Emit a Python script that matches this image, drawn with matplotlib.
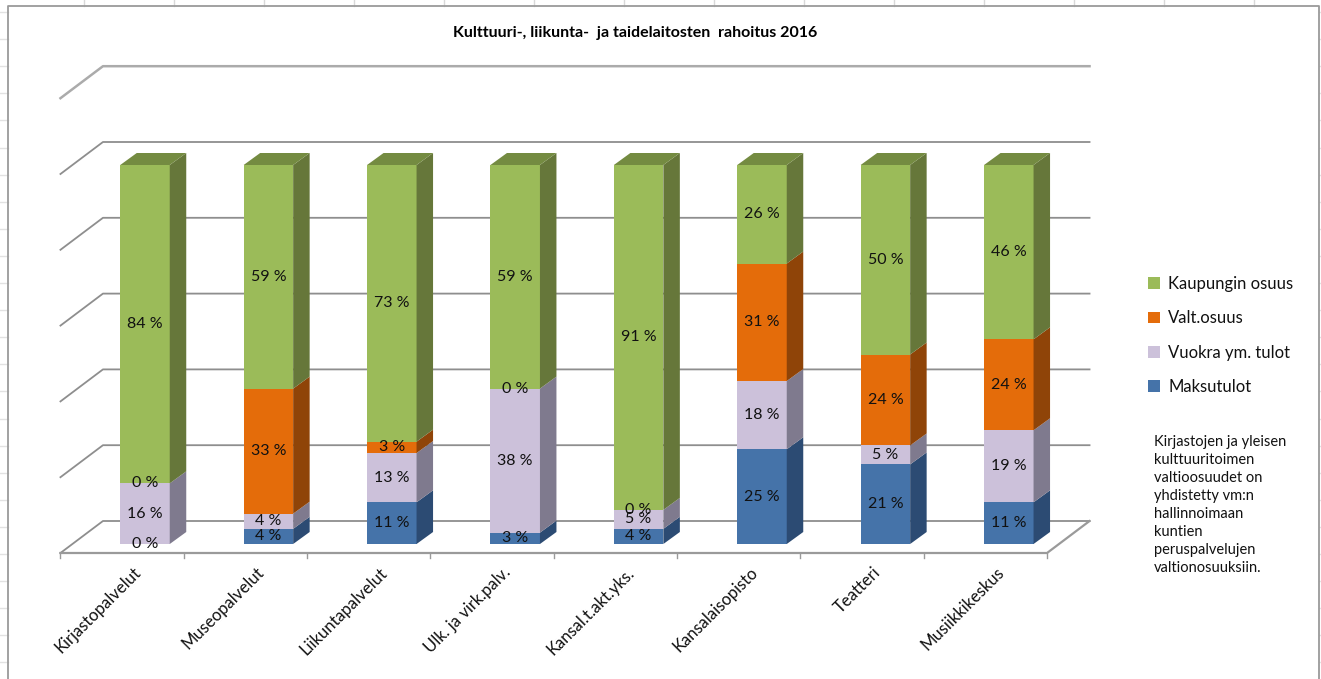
import numpy as np
import matplotlib
matplotlib.use('Agg')
import matplotlib.pyplot as plt
from matplotlib.patches import Polygon, Patch

categories = ['Kirjastopalvelut', 'Museopalvelut', 'Liikuntapalvelut', 'Ulk. ja virk.palv.',
              'Kansal.t.akt.yks.', 'Kansalaisopisto', 'Teatteri', 'Musiikkikeskus']
series_names = ['Maksutulot', 'Vuokra ym. tulot', 'Valt.osuus', 'Kaupungin osuus']
maksutulot = [0, 4, 11, 3, 4, 25, 21, 11]
vuokra = [16, 4, 13, 38, 5, 18, 5, 19]
valt_osuus = [0, 33, 3, 0, 0, 31, 24, 24]
kaupunki = [84, 59, 73, 59, 91, 26, 50, 46]
series_values = [maksutulot, vuokra, valt_osuus, kaupunki]
y_ticks = [0, 20, 40, 60, 80, 100, 120]
note_lines = ['Kirjastojen ja yleisen', 'kulttuuritoimen', 'valtioosuudet on', 'yhdistetty vm:n',
              'hallinnoimaan', 'kuntien', 'peruspalvelujen', 'valtionosuuksiin.']

front_colors = ['#4573a9', '#ccc1da', '#e46c0a', '#9bbb59']
side_colors = ['#2c4b73', '#7f7a8e', '#8f4408', '#66773a']
top_color = '#748b41'
grid_color = '#8e8e8e'

W, H = 1321, 679
X0, X_STEP = 145.0, 123.4   # pixel of first bar centre, pixels per category
Y0, Y_UNIT = 544.0, 3.79    # pixel of value 0, pixels per percent


def px(x):
    return (x - X0) / X_STEP


def py(y):
    return (Y0 - y) / Y_UNIT


plt.rcParams['font.family'] = ['Lato', 'DejaVu Sans']
fig = plt.figure(figsize=(W / 100, H / 100), dpi=100)
ax = fig.add_axes([0, 0, 1, 1])
ax.set_xlim(px(0), px(W))
ax.set_ylim(py(H), py(0))
ax.axis('off')

# depth of the chart floor and of the bars, in data units
bar_w = 49.5 / X_STEP
bar_dx, bar_dy = 16.5 / X_STEP, 12.0 / Y_UNIT
back_dx, back_dy = 32.0 / X_STEP, 23.0 / Y_UNIT
front_dx, front_dy = -10.5 / X_STEP, -9.0 / Y_UNIT
x_left = -0.5 - 0.1 + 0.0
x_right = len(categories) - 0.5 + 0.0 - 0.105

# sheet cells behind the chart and chart border
for xp in np.arange(84, 1321, 90):
    ax.plot([px(xp), px(xp)], [py(0), py(6)], color='#d9d9d9', lw=1)
for yp in np.arange(12, 679, 27.1):
    ax.plot([px(0), px(8)], [py(yp), py(yp)], color='#e2e2e2', lw=1)
    ax.plot([px(1319), px(1321)], [py(yp), py(yp)], color='#e2e2e2', lw=1)
ax.plot([px(8), px(8), px(1319), px(1319)], [py(679), py(6), py(6), py(679)], color='#9a9a9a', lw=1.3)

# gridlines on the back wall and left side
for v in y_ticks:
    lw = 1.8 if v == 120 else 1.3
    col = '#ababab' if v == 120 else grid_color
    ax.plot([x_left + front_dx, x_left + back_dx, x_right + back_dx],
            [v + front_dy, v + back_dy, v + back_dy], color=col, lw=lw, zorder=1)

# floor
ax.plot([x_left + front_dx, x_right + front_dx, x_right + back_dx],
        [front_dy, front_dy, back_dy], color='#9a9a9a', lw=1.6, zorder=1)
for i in range(len(categories) + 1):
    tx = x_left + front_dx + i * (x_right - x_left) / len(categories)
    ax.plot([tx, tx], [front_dy, front_dy - 5 / Y_UNIT], color='#9a9a9a', lw=1, zorder=1)

# stacked bars with a front, side and top face
for i in range(len(categories)):
    bottom = 0
    xl = i - bar_w / 2
    xr = i + bar_w / 2
    for s, vals in enumerate(series_values):
        v = vals[i]
        top = bottom + v
        if v > 0:
            ax.add_patch(Polygon([(xl, bottom), (xr, bottom), (xr, top), (xl, top)],
                                 fc=front_colors[s], ec='none', zorder=3))
            ax.add_patch(Polygon([(xr, bottom), (xr + bar_dx, bottom + bar_dy),
                                  (xr + bar_dx, top + bar_dy), (xr, top)],
                                 fc=side_colors[s], ec='none', zorder=3))
        ax.text(i, bottom + v / 2, '%d %%' % v, ha='center', va='center', fontsize=11.5,
                color='#111111', zorder=5)
        bottom = top
    ax.add_patch(Polygon([(xl, bottom), (xr, bottom), (xr + bar_dx, bottom + bar_dy),
                          (xl + bar_dx, bottom + bar_dy)], fc=top_color, ec='none', zorder=3))
    ax.text(px(138) + i, py(570), categories[i], rotation=45, rotation_mode='anchor',
            ha='right', va='center', fontsize=12, color='#111111')

ax.text(px(635), py(33), 'Kulttuuri-, liikunta-  ja taidelaitosten  rahoitus 2016',
        ha='center', va='center', fontsize=11.5, fontweight='bold', color='black')

handles = [Patch(fc=front_colors[s], ec='none', label=series_names[s]) for s in [3, 2, 1, 0]]
ax.legend(handles=handles, loc='upper left', bbox_to_anchor=(1148 / W, 1 - 276 / H),
          frameon=False, fontsize=12, handlelength=0.72, handleheight=0.72, handletextpad=0.5,
          labelspacing=1.1, borderpad=0, borderaxespad=0, labelcolor='#111111')

ax.text(px(1154), py(435), '\n'.join(note_lines), ha='left', va='top', fontsize=10.5,
        linespacing=1.37, color='#111111')

fig.savefig('out.png', dpi=100)
